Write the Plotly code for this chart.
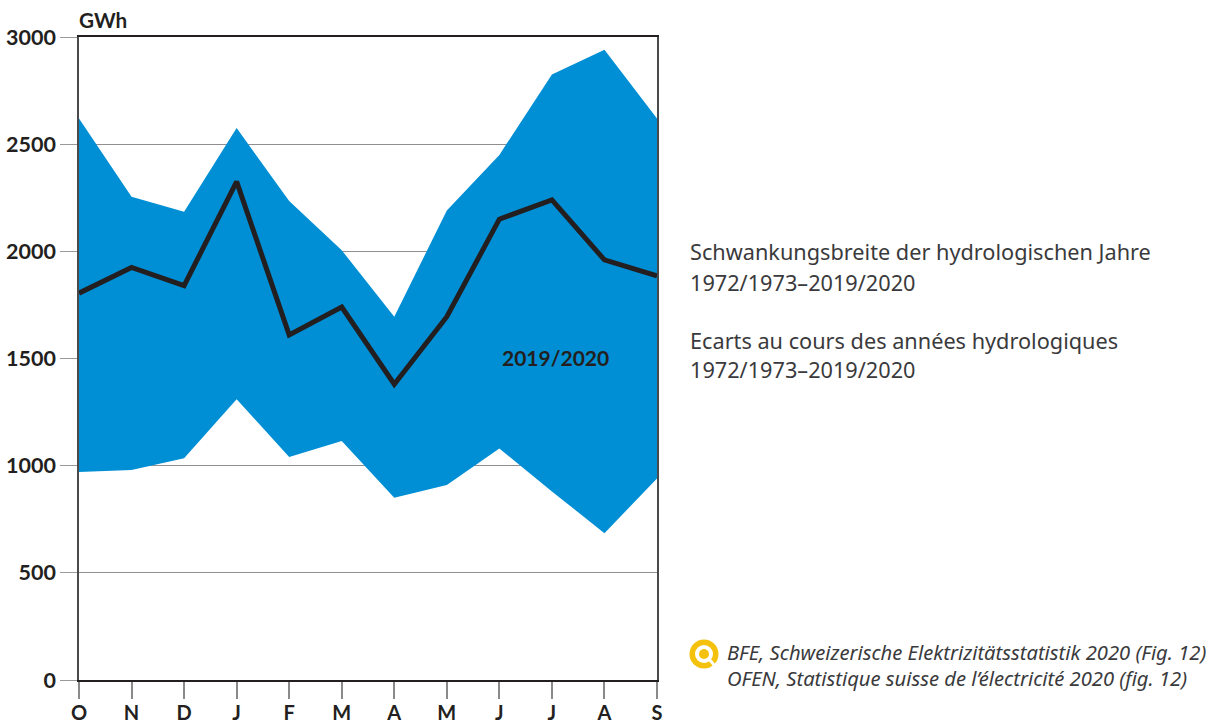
import plotly.graph_objects as go

months = ["O", "N", "D", "J", "F", "M", "A", "M", "J", "J", "A", "S"]
upper = [2620, 2255, 2185, 2575, 2235, 2005, 1695, 2190, 2450, 2825, 2940, 2620]
lower = [970, 980, 1035, 1310, 1040, 1115, 850, 910, 1080, 880, 685, 940]
year_2019_20 = [1805, 1925, 1840, 2325, 1610, 1740, 1380, 1695, 2150, 2240, 1960, 1885]
y_ticks = [0, 500, 1000, 1500, 2000, 2500, 3000]
positions = list(range(len(months)))

W, H = 1223, 724
L, R, T, B = 79, 657, 37, 680
FONT = "Noto Sans"
BOLD_FONT = "Lato"
BOLD = "#231f20"

def px(x):
    return (x - L) / (R - L)

def py(y):
    return (B - y) / (B - T)

fig = go.Figure()
fig.add_trace(go.Scatter(x=positions, y=lower, mode="lines", line=dict(width=0, color="#008fd5"),
                         hoverinfo="skip", showlegend=False))
fig.add_trace(go.Scatter(x=positions, y=upper, mode="lines", line=dict(width=0, color="#008fd5"),
                         fill="tonexty", fillcolor="#008fd5", hoverinfo="skip", showlegend=False))
fig.add_trace(go.Scatter(x=positions, y=year_2019_20, mode="lines",
                         line=dict(width=5, color=BOLD), showlegend=False))

def text(x, y, s, size=20, color="#3a3a3c", bold=False, italic=False, family=FONT):
    if bold:
        s = f"<b>{s}</b>"
    if italic:
        s = f"<i>{s}</i>"
    fig.add_annotation(x=px(x), y=py(y), xref="paper", yref="paper", text=s, showarrow=False,
                       xanchor="left", yanchor="middle", align="left", xshift=-2,
                       font=dict(family=family, size=size, color=color))

text(79, 20, "GWh", size=20.7, color=BOLD, bold=True, family=BOLD_FONT)
text(502, 358, "2019/2020", size=21, color=BOLD, bold=True, family=BOLD_FONT)
text(690, 252, "Schwankungsbreite der hydrologischen Jahre", size=21.7)
text(690, 282, "1972/1973–2019/2020", size=21.7)
text(690, 340, "Ecarts au cours des années hydrologiques", size=21.7)
text(690, 369, "1972/1973–2019/2020", size=21.7)
text(727, 664.5, "BFE, Schweizerische Elektrizitätsstatistik 2020 (Fig. 12)<br>"
                 "OFEN, Statistique suisse de l’électricité 2020 (fig. 12)", size=20.2, italic=True)

def circle(cx, cy, r, color):
    return dict(type="circle", xref="paper", yref="paper", x0=px(cx - r), x1=px(cx + r),
                y0=py(cy + r), y1=py(cy - r), fillcolor=color, line=dict(width=0), layer="above")

fig.update_layout(
    width=W, height=H, paper_bgcolor="white", plot_bgcolor="white",
    margin=dict(l=L, r=W - R, t=T, b=H - B, pad=0),
    font=dict(family=BOLD_FONT, color=BOLD),
    xaxis=dict(range=[0, len(months) - 1], tickmode="array", tickvals=positions,
               ticktext=[f"<b>{m}</b>" for m in months], automargin=False,
               ticks="outside", ticklen=17, tickcolor="#8a8a8c", tickwidth=1.5, ticklabelstandoff=-3,
               showgrid=False, zeroline=False, tickfont=dict(size=20, color=BOLD),
               showline=True, linecolor=BOLD, linewidth=1.5, mirror=True),
    yaxis=dict(range=[0, 3000], tickmode="array", tickvals=y_ticks,
               ticktext=[f"<b>{v}</b>" for v in y_ticks], automargin=False,
               ticks="outside", ticklen=17, tickcolor="#9a9a9c", tickwidth=1,
               showgrid=True, gridcolor="#8f8f91", gridwidth=1, zeroline=False,
               tickfont=dict(size=21.5, color=BOLD),
               showline=True, linecolor="#4a4a4c", linewidth=1.5, mirror=True),
    shapes=[
        circle(704, 654, 14.5, "#f4c20d"),
        circle(704, 654, 9, "white"),
        circle(704, 654, 5, "#f4c20d"),
        dict(type="line", xref="paper", yref="paper", x0=px(708), y0=py(658), x1=px(716), y1=py(667),
             line=dict(color="white", width=3), layer="above"),
    ],
)
fig.write_html("out.html", config={"displayModeBar": False},
               post_script="document.body.style.margin='0';document.body.style.overflow='hidden';")
